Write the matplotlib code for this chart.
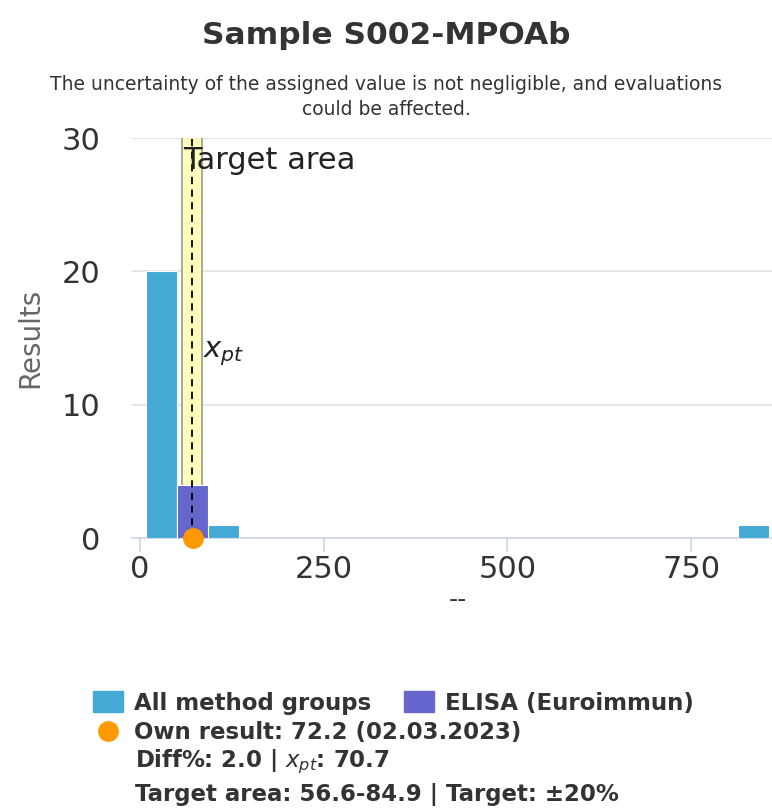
import matplotlib.pyplot as plt
import matplotlib.patches as patches
from matplotlib.lines import Line2D

# histogram bins (lower edges) and counts
bin_width = 42.4
all_left = [8.0, 50.4, 92.8, 813.6]
all_counts = [20, 4, 1, 1]
elisa_left = [50.4]
elisa_counts = [4]

x_pt = 70.7
own_result = 72.2
target_lo, target_hi = 56.6, 84.9

fig = plt.figure(figsize=(7.72, 8.10), dpi=100)
ax = fig.add_axes([132 / 772, 1 - 538 / 810, 640 / 772, 400 / 810])

# target area band
ax.axvspan(target_lo, target_hi, color='#ffffbb', zorder=1)
ax.axvline(target_lo, color='#999999', lw=1.2, zorder=2)
ax.axvline(target_hi, color='#999999', lw=1.2, zorder=2)

ax.bar(all_left, all_counts, width=bin_width, align='edge', color='#44aad5',
       edgecolor='white', linewidth=0.8, zorder=3)
ax.bar(elisa_left, elisa_counts, width=bin_width, align='edge', color='#6666cc',
       edgecolor='white', linewidth=0.8, zorder=3)

ax.axvline(x_pt, color='black', lw=1.3, ls=(0, (4, 3)), zorder=5)
ax.plot([own_result], [0], 'o', color='#ff9900', markersize=14, zorder=6, clip_on=False)

ax.text(target_lo + 2, 28.3, 'Target area', fontsize=22, color='#222222', va='center', zorder=6)
ax.text(target_hi + 0.5, 13.8, '$x_{pt}$', fontsize=21, color='#222222', va='center', zorder=6)

ax.set_xlim(-11, 860)
ax.set_ylim(0, 30)
ax.set_xticks([0, 250, 500, 750])
ax.set_yticks([0, 10, 20, 30])
ax.tick_params(axis='x', length=10, width=1.2, color='#ccd6eb', labelsize=22, labelcolor='#333333', pad=2)
ax.tick_params(axis='y', length=0, labelsize=22, labelcolor='#333333', pad=23)
ax.grid(axis='y', color='#e0e0e0', lw=1.2)
ax.set_axisbelow(True)
for s in ['top', 'right', 'left']:
    ax.spines[s].set_visible(False)
ax.spines['bottom'].set_color('#ccd6eb')
ax.spines['bottom'].set_linewidth(1.2)

fig.text(30 / 772, 1 - 338 / 810, 'Results', rotation=90, ha='center', va='center',
         fontsize=20, color='#666666')
fig.text(458 / 772, 1 - 600 / 810, '--', ha='center', va='center', fontsize=18, color='#333333')

fig.text(0.5, 1 - 35 / 810, 'Sample S002-MPOAb', ha='center', va='center', fontsize=22.5,
         color='#333333', fontweight='bold')
fig.text(0.5, 1 - 97 / 810, 'The uncertainty of the assigned value is not negligible, and evaluations\ncould be affected.',
         ha='center', va='center', fontsize=13.5, color='#333333', linespacing=1.35)

# legend
leg_fs = 16.5
h1 = patches.Patch(color='#44aad5')
h2 = patches.Patch(color='#6666cc')
fig.legend([h1, h2], ['All method groups', 'ELISA (Euroimmun)'], ncol=2,
           loc='center left', bbox_to_anchor=(84 / 772, 1 - 703 / 810), frameon=False,
           prop={'size': leg_fs, 'weight': 'bold'}, handlelength=1.3, handleheight=1.0,
           handletextpad=0.5, columnspacing=1.4, labelcolor='#333333', borderaxespad=0)
h3 = Line2D([], [], marker='o', color='#ff9900', ls='none', markersize=14)
fig.legend([h3], ['Own result: 72.2 (02.03.2023)'], loc='center left',
           bbox_to_anchor=(84 / 772, 1 - 733 / 810), frameon=False,
           prop={'size': leg_fs, 'weight': 'bold'}, handlelength=1.3, handletextpad=0.5,
           labelcolor='#333333', borderaxespad=0)
fig.text(135 / 772, 1 - 762 / 810, 'Diff%: 2.0 | $x_{pt}$: 70.7', fontsize=leg_fs, fontweight='bold',
         color='#333333', va='center')
fig.text(135 / 772, 1 - 795 / 810, 'Target area: 56.6-84.9 | Target: ±20%', fontsize=leg_fs, fontweight='bold',
         color='#333333', va='center')

fig.savefig('out.png', dpi=100)
